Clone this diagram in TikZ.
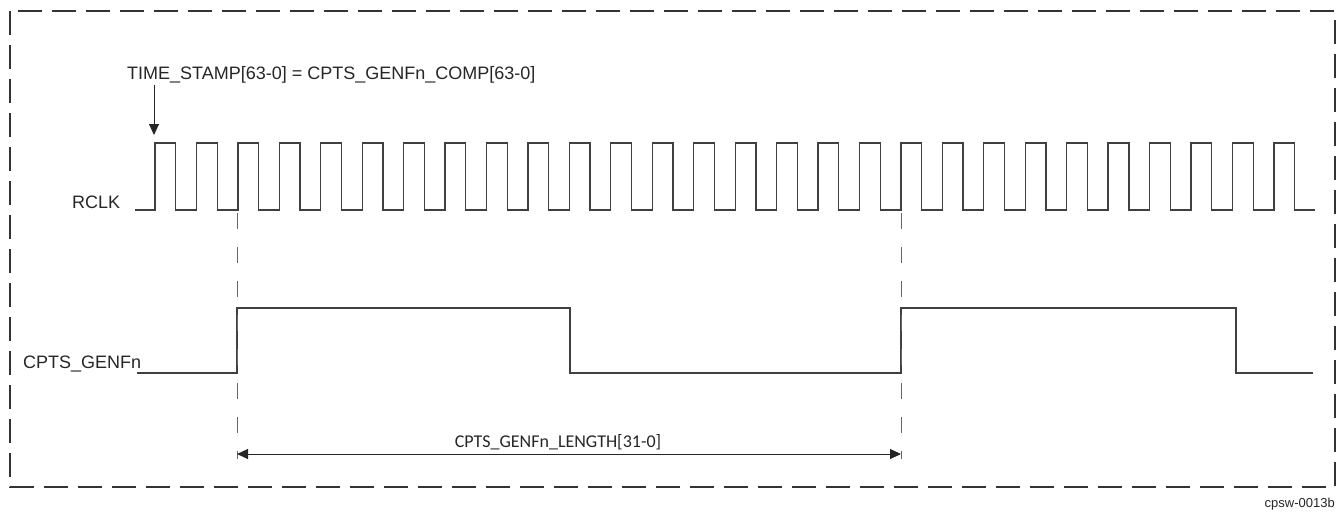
\documentclass[tikz,border=0pt]{standalone}
\usepackage{fontspec}
\setmainfont{Liberation Sans}
\newfontfamily\calfont{Carlito}
\usetikzlibrary{arrows.meta}
\begin{document}
\begin{tikzpicture}[x=1pt,y=-1pt,
  frame/.style={draw=black!80,line width=2.4pt,dash pattern=on 24pt off 10pt},
  sig/.style={draw=black!75,line width=1.3pt,line join=miter},
  guide/.style={draw=black!60,line width=0.9pt,dash pattern=on 16pt off 18pt},
  lbl/.style={inner sep=0pt,font=\fontsize{18}{20}\selectfont,text=black!85},
  lenlbl/.style={inner sep=0pt,font=\calfont\fontsize{18}{20}\selectfont,text=black!85},
  idlbl/.style={inner sep=0pt,font=\fontsize{13}{15}\selectfont,text=black!85},
  arr/.style={draw=black!85,line width=1pt,-{Triangle[length=11pt,width=10pt]}},
  darr/.style={draw=black!85,line width=1pt,{Triangle[length=11pt,width=10pt]}-{Triangle[length=11pt,width=10pt]}}
]
\useasboundingbox (0,0) rectangle (1340,514);
% frame
\draw[frame] (10,11) rectangle (1335,487);

% labels
\node[lbl,anchor=base west] (tsLbl) at (127,79) {TIME\_STAMP[63-0] = CPTS\_GENFn\_COMP[63-0]};
\node[lbl,anchor=base west] (rclkLbl) at (72,208) {RCLK};
\node[lbl,anchor=base west] (genLbl) at (23,368) {CPTS\_GENFn};
\node[lenlbl,anchor=base] (lenLbl) at (558,447) {CPTS\_GENFn\_LENGTH[31-0]};
\node[idlbl,anchor=base east] (figId) at (1335,507) {cpsw-0013b};

% RCLK waveform
\draw[sig] (135,210) -- (155,210)
  \foreach \k in {0,...,27} { -- ++(0,-67) -- ++(20.72,0) -- ++(0,67) -- ++(20.72,0) };

% CPTS_GENFn waveform
\draw[sig] (137,373) -- (237,373) -- (237,308) -- (570,308) -- (570,373)
  -- (901,373) -- (901,308) -- (1236,308) -- (1236,373) -- (1313,373);

% guide lines
\coordinate (gA) at (237,213);
\coordinate (gB) at (901,213);
\coordinate (e1) at (237,454);
\coordinate (e2) at (901,454);
\draw[guide] (gA) -- (237,459);
\draw[guide] (gB) -- (901,459);

% arrows
\coordinate (tsTip) at (154,135);
\draw[arr] (tsLbl.south west -| tsTip) ++(0,2) -- (tsTip);
\draw[darr] (e1) -- (e2);
\end{tikzpicture}
\end{document}
